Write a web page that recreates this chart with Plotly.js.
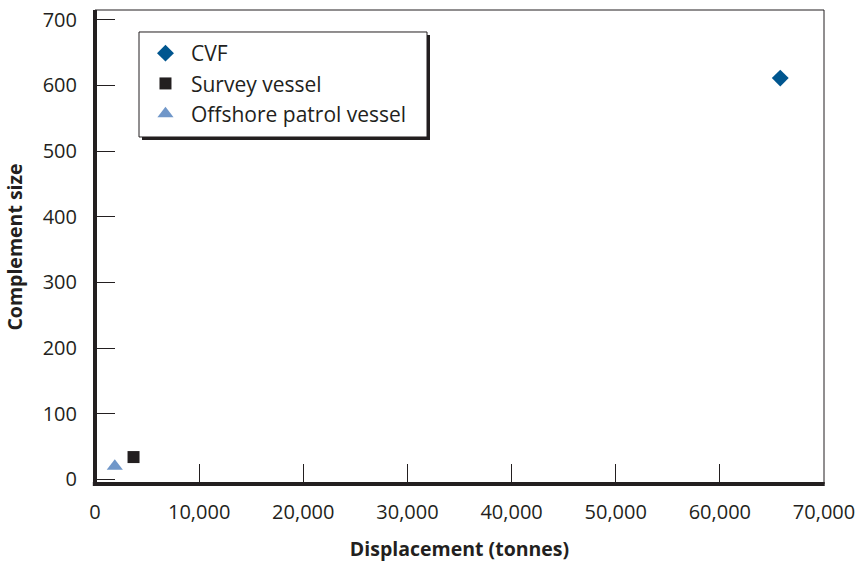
<!DOCTYPE html>
<html>
<head>
<meta charset="utf-8">
<script src="https://cdn.plot.ly/plotly-3.0.1.min.js"></script>
<style>
html,body{margin:0;padding:0;background:#fff;}
#chart{width:857px;height:562px;}
</style>
</head>
<body>
<div id="chart"></div>
<script>
// Data
const seriesNames = ["CVF", "Survey vessel", "Offshore patrol vessel"];
const displacement = [65800, 3700, 1900];   // tonnes
const complement = [611, 34, 20];           // crew size
const xTickVals = [0, 10000, 20000, 30000, 40000, 50000, 60000, 70000];
const xTickText = ["0", "10,000", "20,000", "30,000", "40,000", "50,000", "60,000", "70,000"];
const yTickVals = [0, 100, 200, 300, 400, 500, 600, 700];
const yTickText = ["0", "100", "200", "300", "400", "500", "600", "700"];

const symbols = ["diamond", "square", "triangle-up"];
const colors = ["#00568f", "#231f20", "#7097c9"];
const sizes = [13, 12, 14];
const ink = "#231f20";
const fontFam = "'Open Sans', 'Noto Sans', sans-serif";

const traces = seriesNames.map((name, i) => ({
  type: "scatter",
  mode: "markers",
  name: name,
  x: [displacement[i]],
  y: [complement[i]],
  legendgroup: "g" + i,
  marker: { symbol: symbols[i], color: colors[i], size: sizes[i], line: { width: 0 } },
  hoverinfo: "x+y+name"
}));

const layout = {
  width: 857,
  height: 562,
  margin: { l: 95, r: 33, t: 10, b: 78, pad: 0 },
  paper_bgcolor: "#fff",
  plot_bgcolor: "#fff",
  font: { family: fontFam, size: 20, color: ink },
  showlegend: true,
  legend: {
    x: 0.0617, y: 0.9515, xanchor: "left", yanchor: "top",
    bgcolor: "rgba(0,0,0,0)", borderwidth: 0,
    font: { family: fontFam, size: 21, color: ink },
    traceorder: "grouped", tracegroupgap: 0,
    itemwidth: 41
  },
  xaxis: {
    range: [0, 70000],
    tickvals: xTickVals, ticktext: xTickText,
    ticks: "inside", ticklen: 20, tickwidth: 1, tickcolor: ink,
    showgrid: false, zeroline: false, showline: false,
    ticklabelstandoff: 14,
    tickfont: { family: fontFam, size: 20, color: ink },
    title: { text: "Displacement (tonnes)", font: { family: fontFam, size: 19.5, color: ink, weight: "bold" }, standoff: 24 },
    fixedrange: true
  },
  yaxis: {
    range: [-7, 714.7],
    tickvals: yTickVals, ticktext: yTickText,
    ticks: "inside", ticklen: 20, tickwidth: 1, tickcolor: ink,
    showgrid: false, zeroline: false, showline: false,
    ticklabelstandoff: 17,
    tickfont: { family: fontFam, size: 20, color: ink },
    title: { text: "Complement size", font: { family: fontFam, size: 19.5, color: ink, weight: "bold" }, standoff: 14 },
    fixedrange: true
  },
  shapes: [
    // thin frame
    { type: "rect", xref: "paper", yref: "paper", x0: 0, x1: 1, y0: 0, y1: 1, line: { color: ink, width: 1 }, layer: "above" },
    // thick left and bottom axis lines
    { type: "line", xref: "paper", yref: "paper", x0: 0, x1: 0, y0: -0.004, y1: 1, line: { color: ink, width: 4 }, layer: "above" },
    { type: "line", xref: "paper", yref: "paper", x0: -0.003, x1: 1.001, y0: 0, y1: 0, line: { color: ink, width: 4 }, layer: "above" },
    // legend box drop shadow and box
    { type: "rect", xref: "paper", yref: "paper", x0: 0.06447, x1: 0.45953, y0: 0.72574, y1: 0.94726, fillcolor: ink, line: { width: 0 }, layer: "above" },
    { type: "rect", xref: "paper", yref: "paper", x0: 0.06036, x1: 0.45542, y0: 0.73207, y1: 0.95359, fillcolor: "#fff", line: { color: ink, width: 1 }, layer: "above" }
  ]
};

Plotly.newPlot("chart", traces, layout, { displayModeBar: false, staticPlot: true });
</script>
</body>
</html>
